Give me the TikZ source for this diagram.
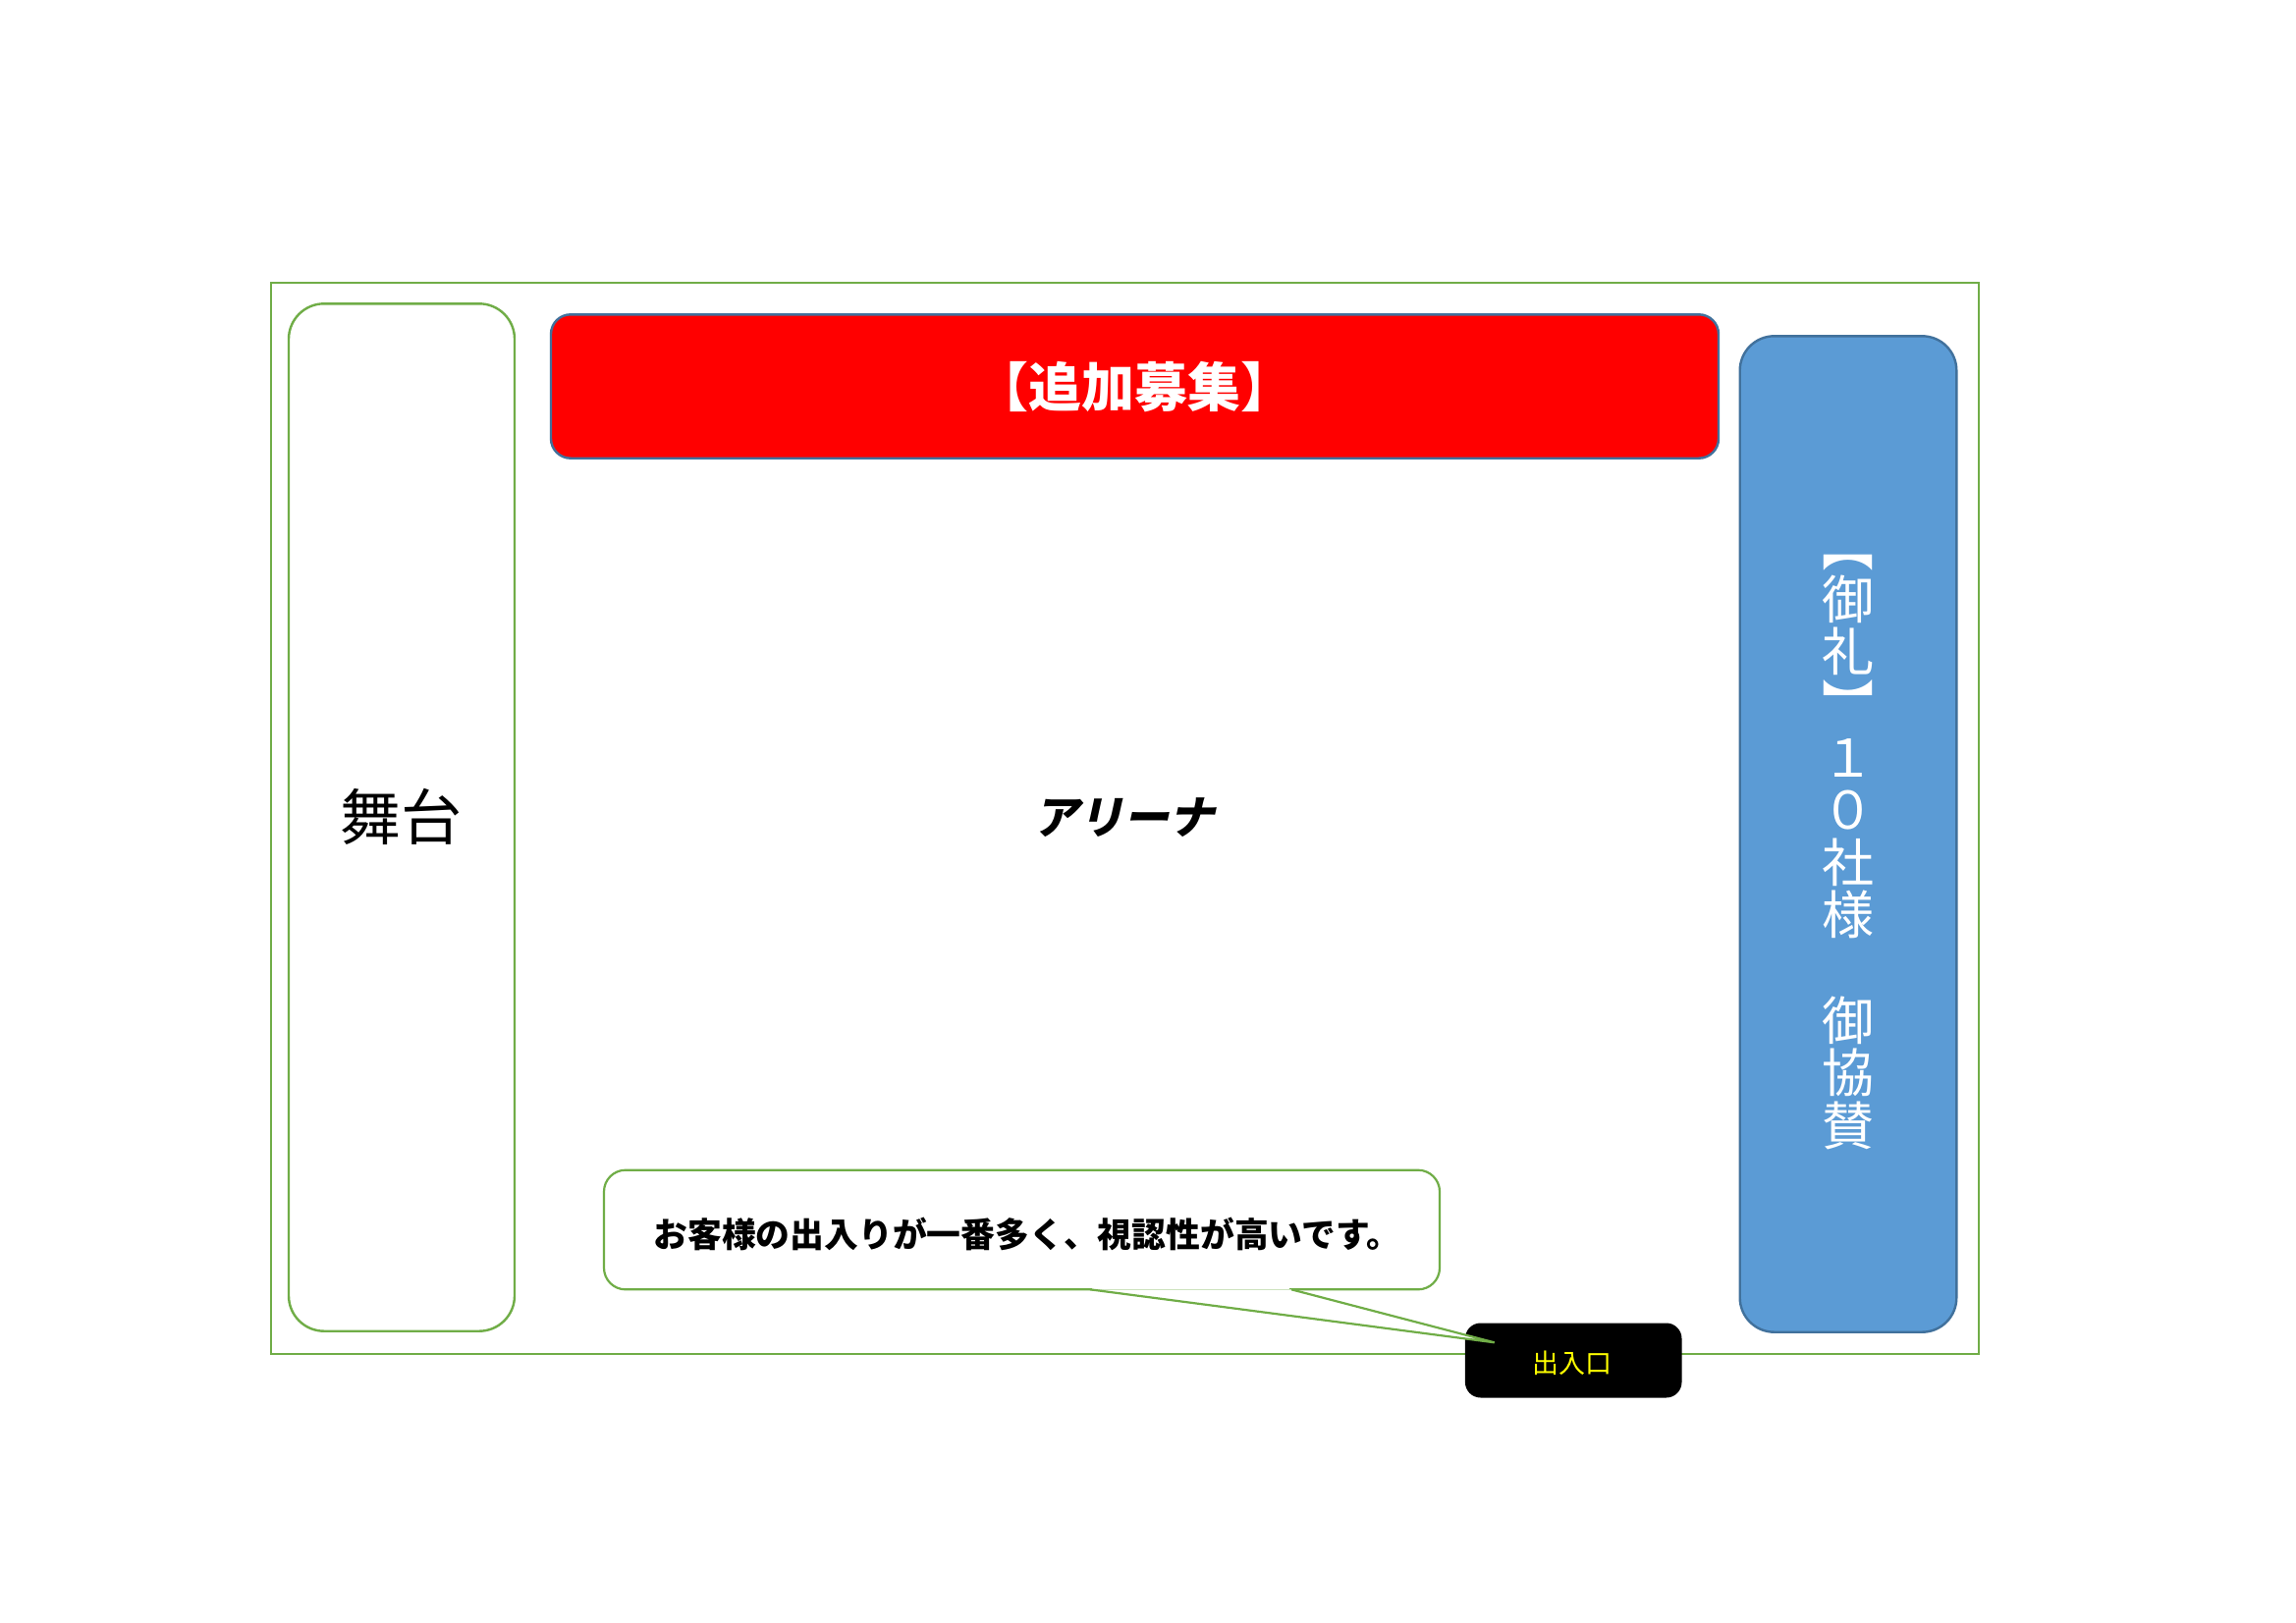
\documentclass[tikz,border=0pt]{standalone}
\usepackage{fontspec}
\newfontfamily\cjk{Noto Sans CJK JP}
\newfontfamily\cjkslant[FakeSlant=0.22]{Noto Sans CJK JP}
\definecolor{framegreen}{HTML}{70AD47}
\definecolor{edgeblue}{HTML}{41719C}
\definecolor{fillblue}{HTML}{5B9BD5}
\definecolor{labelyellow}{HTML}{FFFF00}
\begin{document}
\begin{tikzpicture}[x=0.5pt,y=-0.5pt,
  areaframe/.style={draw=framegreen, line width=1pt, inner sep=0pt},
  stagebox/.style={draw=framegreen, fill=white, line width=1.2pt, rounded corners=18pt, inner sep=0pt},
  redbox/.style={draw=edgeblue, fill=red, line width=1.2pt, rounded corners=10pt, inner sep=0pt},
  bluebox/.style={draw=edgeblue, fill=fillblue, line width=1.2pt, rounded corners=17.5pt, inner sep=0pt},
  calloutbox/.style={draw=framegreen, fill=white, line width=1.1pt, rounded corners=11pt, inner sep=0pt},
  exitstyle/.style={draw=black, fill=black, line width=0.8pt, rounded corners=7.5pt, inner sep=0pt},
  tailline/.style={draw=framegreen, line width=1.1pt, line join=bevel},
  plaintext/.style={inner sep=0pt}
]
\useasboundingbox (0,0) rectangle (2338,1653);
\fill[white] (0,0) rectangle (2338,1653);

% outer frame
\node[areaframe, minimum width=869.5pt, minimum height=545.65pt] (frame) at (1145.5,833.65) {};

% stage
\node[stagebox, minimum width=115pt, minimum height=523.2pt] (stage) at (409,832.5) {};
\node[plaintext, font=\cjk\fontsize{31}{31}\selectfont] (stagelabel) at (408,832) {舞台};

% red banner
\node[redbox, minimum width=594.5pt, minimum height=73.2pt] (banner) at (1155.5,393.5) {};
\node[plaintext, text=white, font=\cjk\bfseries\fontsize{27}{27}\selectfont] (bannerlabel) at (1155.5,394) {【追加募集】};

% blue sponsor box
\node[bluebox, minimum width=110.3pt, minimum height=507.2pt] (sponsor) at (1882,849.5) {};
\node[plaintext, text=white, align=center, font=\cjk\fontsize{26.5}{26.8}\selectfont] (sponsorlabel) at (1882,868) {︻\\御\\礼\\︼\\１\\０\\社\\様\\　\\御\\協\\賛};

% arena
\node[plaintext, font=\cjkslant\bfseries\fontsize{23}{23}\selectfont] (arena) at (1144,833) {アリーナ};

% exit box
\node[exitstyle, minimum width=109.5pt, minimum height=37.2pt] (exit) at (1602.2,1385.5) {};
\node[plaintext, text=labelyellow, font=\cjk\fontsize{13.5}{13.5}\selectfont] (exitlabel) at (1600.5,1388) {出入口};

% callout
\node[calloutbox, minimum width=425.5pt, minimum height=60.8pt] (callout) at (1040.5,1252.5) {};
\coordinate (tailA) at (1110,1313.3);
\coordinate (tailB) at (1315,1313.3);
\coordinate (tailtip) at (1521.7,1367.3);
\fill[white] (tailA) -- (tailtip) -- (tailB) -- cycle;
\fill[white] (1112,1310.5) rectangle (1313,1313.3);
\draw[tailline] (tailA) -- (tailtip) -- (tailB);
\node[plaintext, font=\cjk\bfseries\fontsize{17.4}{17.4}\selectfont] (calloutlabel) at (1046,1257) {お客様の出入りが一番多く、視認性が高いです。};
\end{tikzpicture}
\end{document}
